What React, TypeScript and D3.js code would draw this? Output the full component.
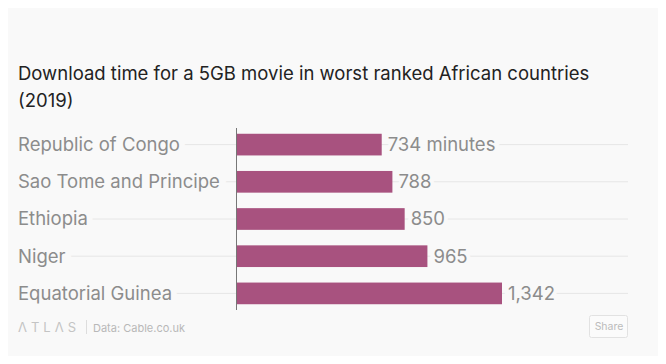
import React from "react";
import * as d3 from "d3";

const countries = [
  "Republic of Congo",
  "Sao Tome and Principe",
  "Ethiopia",
  "Niger",
  "Equatorial Guinea",
];
const minutes = [734, 788, 850, 965, 1342];

const BG = "#f9f9f9";
const FONT = "Inter, 'Noto Sans', sans-serif";

export default function App() {
  const width = 666;
  const height = 364;
  const left = 236.5;

  const x = d3.scaleLinear().domain([0, 1342]).range([left, 502]);
  const y = d3
    .scaleBand()
    .domain(countries)
    .range([128, 310])
    .paddingInner(0.417)
    .paddingOuter(0.155);

  const fmt = d3.format(",");

  return (
    <div style={{ margin: -8 }}>
      <svg width={width} height={height} style={{ display: "block", background: BG }}>
        <text x={18} y={80} fontFamily={FONT} fontSize={18.5} fill="#222">
          Download time for a 5GB movie in worst ranked African countries
        </text>
        <text x={18} y={107} fontFamily={FONT} fontSize={18.5} fill="#222">
          (2019)
        </text>

        {countries.map((c) => {
          const cy = y(c)! + y.bandwidth() / 2;
          return (
            <line key={"g" + c} x1={18} x2={628} y1={cy} y2={cy} stroke="#e6e6e6" strokeWidth={1} />
          );
        })}

        {countries.map((c) => {
          const cy = y(c)! + y.bandwidth() / 2;
          return (
            <text
              key={"l" + c}
              x={18}
              y={cy}
              dy="0.35em"
              fontFamily={FONT}
              fontSize={18.5}
              fill="#8c8c8c"
              stroke={BG}
              strokeWidth={12}
              paintOrder="stroke"
            >
              {c}
            </text>
          );
        })}

        {countries.map((c, i) => (
          <rect
            key={"b" + c}
            x={x(0)}
            y={y(c)}
            width={x(minutes[i]) - x(0)}
            height={y.bandwidth()}
            fill="#a8527f"
          />
        ))}

        {countries.map((c, i) => {
          const cy = y(c)! + y.bandwidth() / 2;
          return (
            <text
              key={"v" + c}
              x={x(minutes[i]) + 6}
              y={cy}
              dy="0.35em"
              fontFamily={FONT}
              fontSize={18.5}
              fill="#8c8c8c"
              stroke={BG}
              strokeWidth={8}
              paintOrder="stroke"
            >
              {fmt(minutes[i]) + (i === 0 ? " minutes" : "")}
            </text>
          );
        })}

        <line x1={left} x2={left} y1={128} y2={310} stroke="#777" strokeWidth={1} />

        <text x={18} y={332} fontFamily={FONT} fontSize={13} fill="#c4c4c4" letterSpacing={4}>
          ΛTLΛS
        </text>
        <line x1={86.5} x2={86.5} y1={320} y2={334} stroke="#ddd" />
        <text x={93} y={331.5} fontFamily={FONT} fontSize={11} fill="#b8b8b8">
          Data: Cable.co.uk
        </text>

        <rect x={589.5} y={315.5} width={38} height={22} rx={2} fill="#fbfbfb" stroke="#e2e2e2" />
        <text x={609} y={330} textAnchor="middle" fontFamily={FONT} fontSize={10.5} fill="#bbb">
          Share
        </text>
      </svg>
    </div>
  );
}
